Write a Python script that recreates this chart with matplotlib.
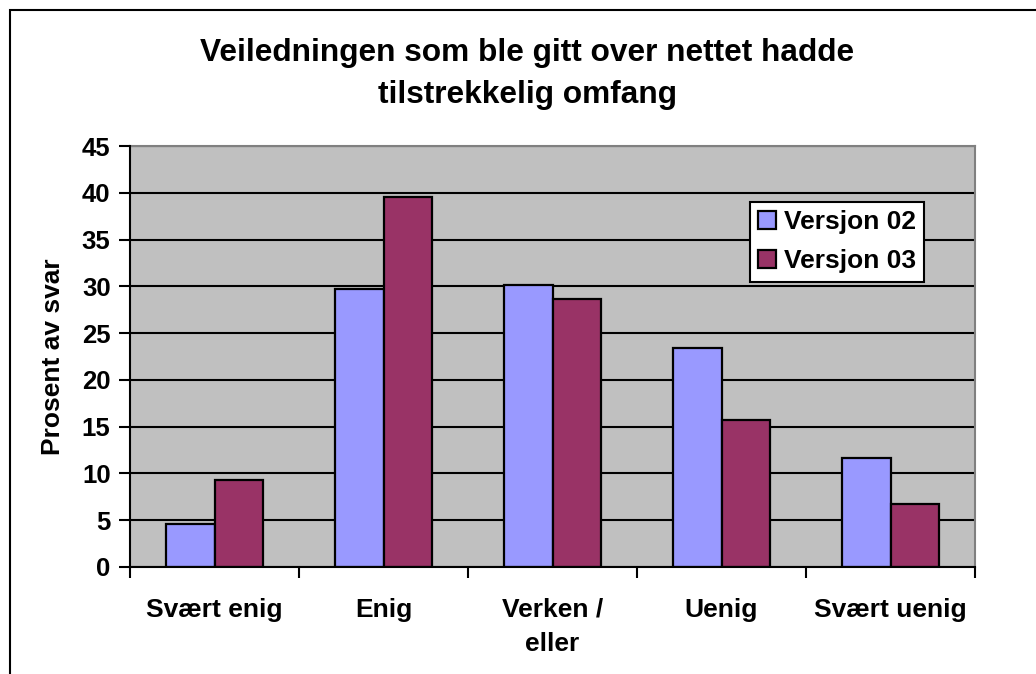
import matplotlib
matplotlib.use("Agg")
import matplotlib.pyplot as plt
import numpy as np
from matplotlib.patches import Rectangle

categories = ["Svært enig", "Enig", "Verken /\neller", "Uenig", "Svært uenig"]
versjon_02 = [4.6, 29.7, 30.1, 23.4, 11.7]
versjon_03 = [9.3, 39.5, 28.6, 15.7, 6.7]
series_names = ["Versjon 02", "Versjon 03"]
yticks = [0, 5, 10, 15, 20, 25, 30, 35, 40, 45]

plt.rcParams['font.family'] = ['Liberation Sans', 'DejaVu Sans']
plt.rcParams['font.weight'] = 'bold'

W, H = 1036, 674
fig = plt.figure(figsize=(W / 100, H / 100), dpi=100)
fig.patch.set_facecolor('white')

# figure border (left & top visible)
fig.patches.append(Rectangle((10 / W, -0.1), 1.2, 1 - 10 / H + 0.1,
                             transform=fig.transFigure, fill=False,
                             edgecolor='black', linewidth=1.5))

ax = fig.add_axes([130 / W, 1 - 567 / H, (975 - 130) / W, (567 - 146) / H])
ax.set_facecolor('#C0C0C0')

x = np.arange(len(categories))
bw = 0.286
ax.bar(x - bw / 2, versjon_02, bw, color='#9999FF', edgecolor='black',
       linewidth=1.6, label=series_names[0], zorder=3)
ax.bar(x + bw / 2, versjon_03, bw, color='#993366', edgecolor='black',
       linewidth=1.6, label=series_names[1], zorder=3)

ax.set_xlim(-0.5, len(categories) - 0.5)
ax.set_ylim(0, 45)
ax.set_yticks(yticks)
ax.set_yticklabels([str(v) for v in yticks], fontsize=18.5, fontweight='bold')
ax.yaxis.grid(True, color='black', linewidth=1.5, zorder=1)
ax.set_axisbelow(True)

ax.set_xticks(np.arange(-0.5, len(categories), 1.0))
ax.set_xticklabels([])
ax.set_xticks(x, minor=True)
ax.set_xticklabels(categories, minor=True, fontsize=19, fontweight='bold',
                   linespacing=1.55)
ax.tick_params(axis='x', which='minor', length=0, pad=22)
ax.tick_params(axis='x', which='major', length=8, width=1.5, direction='out')
ax.tick_params(axis='y', length=8, width=1.5, direction='out', pad=6)

for s in ['top', 'right']:
    ax.spines[s].set_color('#808080')
    ax.spines[s].set_linewidth(1.5)
for s in ['left', 'bottom']:
    ax.spines[s].set_color('black')
    ax.spines[s].set_linewidth(1.5)
    ax.spines[s].set_zorder(4)

ax.set_ylabel("Prosent av svar", fontsize=19, fontweight='bold', labelpad=12)

fig.text(527 / W, 1 - 74 / H,
         "Veiledningen som ble gitt over nettet hadde\ntilstrekkelig omfang",
         ha='center', va='center', fontsize=22.8, fontweight='bold',
         linespacing=1.48)

leg = ax.legend(loc='upper left', bbox_to_anchor=(750 / W, 1 - 202 / H),
                bbox_transform=fig.transFigure, fontsize=19, frameon=True,
                fancybox=False, edgecolor='black', framealpha=1,
                handlelength=0.68, handleheight=0.68, handletextpad=0.27,
                borderpad=0.32, labelspacing=0.57, borderaxespad=0)
leg.get_frame().set_linewidth(1.5)
for t in leg.get_texts():
    t.set_fontweight('bold')
leg.set_zorder(5)

fig.savefig("out.png", dpi=100)
